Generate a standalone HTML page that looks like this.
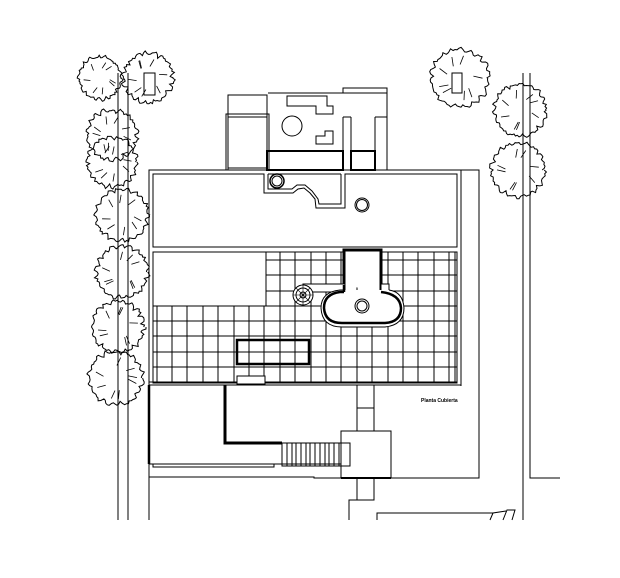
<!DOCTYPE html>
<html><head><meta charset="utf-8"><style>
html,body{margin:0;padding:0;background:#fff;}
svg{display:block;}
text{font-family:"Liberation Sans",sans-serif;}
</style></head><body>
<svg id="s" width="620" height="578" viewBox="0 0 620 578" xmlns="http://www.w3.org/2000/svg" fill="none" stroke="#000" stroke-width="1">
<g id="trees" stroke-width="1"></g>
<!-- tree trunk lines -->
<line x1="118" y1="73" x2="118" y2="520"/>
<line x1="128" y1="73" x2="128" y2="520"/>
<rect x="144" y="73" width="11" height="22"/>
<rect x="452" y="73" width="10" height="20"/>
<line x1="523" y1="73" x2="523" y2="520"/>
<polyline points="530,73 530,478 560,478"/>

<!-- top annex -->
<rect x="228" y="95" width="39" height="75"/>
<rect x="226" y="114" width="43" height="56"/>
<line x1="228" y1="117" x2="267" y2="117"/>
<line x1="228" y1="168" x2="267" y2="168"/>
<polyline points="268,93 387,93 387,170"/>
<rect x="343" y="88" width="44" height="5"/>
<line x1="343" y1="117" x2="343" y2="170"/>
<line x1="351" y1="117" x2="351" y2="170"/>
<line x1="343" y1="117" x2="351" y2="117"/>
<line x1="375" y1="117" x2="375" y2="170"/>
<line x1="375" y1="117" x2="387" y2="117"/>
<rect x="267" y="151" width="76" height="19" stroke-width="2"/>
<rect x="351" y="151" width="24" height="19" stroke-width="2"/>
<polygon points="287,96 327,96 327,106 333,106 333,114 316,114 316,106 287,106"/>
<circle cx="292" cy="126" r="10"/>
<polygon points="325,131 333,131 333,144 316,144 316,136 325,136"/>

<!-- main outer -->
<polyline points="149,520 149,170 479,170 479,478 391,478"/>
<polyline points="149,477 314,477 314,478 341,478"/>
<line x1="461" y1="170" x2="461" y2="386"/>
<!-- top roof -->
<polygon points="153,174 264,174 264,193 293,193 298,189 304,188 310,193 315,199 316,208 345,208 345,174 457,174 457,247 153,247"/>
<polyline points="268,174 268,189 292,189 297,185 305,185 312,191 318,199 319,204 341,204 341,174"/>
<line x1="268" y1="174" x2="341" y2="174"/>
<circle cx="277" cy="181" r="7" stroke-width="1.5"/>
<circle cx="277" cy="181" r="5"/>
<circle cx="362" cy="205" r="7"/>
<circle cx="362" cy="205" r="5.5"/>

<!-- grid area -->
<rect x="153" y="252" width="113" height="54"/>
<g id="grid" stroke-width="1"></g>
<rect x="153" y="252" width="304" height="131"/>
<line x1="157" y1="306" x2="157" y2="383"/>
<line x1="149" y1="385" x2="461" y2="385"/>
<line x1="149" y1="382" x2="153" y2="382"/>
<!-- tower -->
<polyline points="344,285 344,250 381,250 381,292" stroke-width="3" fill="#fff"/>
<rect x="303" y="284" width="42" height="8" fill="#fff"/>
<circle cx="303" cy="295" r="10" fill="#fff"/>
<circle cx="303" cy="295" r="7"/>
<circle cx="303" cy="295" r="3"/>
<path d="M303,285 L303,305 M293,295 L313,295 M296,288 L310,302 M310,288 L296,302" stroke-width="0.6"/>
<rect x="381" y="284" width="8" height="7" fill="#fff"/>
<path d="M344,290 L340,290 Q321,292 321,308 Q322,327 342,327 L385,327 Q404,325 404,308 Q403,292 389,290" fill="#fff"/>
<path d="M344,292 L340,292 Q324,294 324,308 Q325,323 342,323 L385,323 Q401,322 401,308 Q400,294 381,292 M344,285 L344,292" stroke-width="2.5"/>
<circle cx="362" cy="306" r="7"/>
<circle cx="362" cy="306" r="5"/>
<rect x="237" y="340" width="72" height="24" stroke-width="2.5" fill="none"/>
<rect x="237" y="376" width="28" height="8" fill="#fff"/>

<!-- lower -->
<polyline points="225,385 225,443 282,443" stroke-width="3"/>
<line x1="149" y1="385" x2="149" y2="464" stroke-width="2.5"/>
<line x1="149" y1="464" x2="345" y2="464"/>
<polyline points="153,464 153,467 274,467 274,464"/>
<rect x="282" y="443" width="60" height="23"/>
<rect x="342" y="443" width="8" height="23"/>
<g id="stairs" stroke-width="1"></g>
<rect x="341" y="431" width="50" height="47" fill="#fff"/>
<rect x="341" y="443" width="9" height="23"/>
<line x1="341" y1="478" x2="391" y2="478" stroke-width="2"/>
<rect x="357" y="385" width="17" height="23"/>
<rect x="357" y="408" width="17" height="23"/>
<rect x="357" y="478" width="17" height="22"/>
<polyline points="357,500 349,500 349,520"/>
<polyline points="377,520 377,513 493,513"/>
<path d="M490,520 L493,513 L506,511 M503,520 L507,510 L515,510 L512,520"/>
<text x="421" y="402" font-size="5" font-weight="bold" fill="#000" stroke="none">Planta Cubierta</text>
</svg>
<script>
(function(){
var NS="http://www.w3.org/2000/svg";
var g=document.getElementById('grid');
function L(p,x1,y1,x2,y2){var l=document.createElementNS(NS,'line');l.setAttribute('x1',x1);l.setAttribute('y1',y1);l.setAttribute('x2',x2);l.setAttribute('y2',y2);p.appendChild(l);}
var xs=[];for(var x=172;x<457;x+=15.4)xs.push(Math.round(x));
xs.forEach(function(x){L(g,x,(x>266?252:306),x,383);});
L(g,455,252,455,383);
for(var y=260;y<=383;y+=15.25){var yy=Math.round(y);L(g,yy<306?266:153,yy,457,yy);}
var st=document.getElementById('stairs');
for(var x=287;x<342;x+=4.7)L(st,Math.round(x),443,Math.round(x),466);
var t=document.getElementById('trees');
function tree(cx,cy,r,seed){var s=seed;function rnd(){s=(s*9301+49297)%233280;return s/233280;}
var d='';var n=90;for(var i=0;i<=n;i++){var a=i/n*Math.PI*2;var rr=r*(0.88+0.12*Math.abs(Math.sin(a*9+seed)))+ (rnd()-0.5)*3;var px=cx+rr*Math.cos(a),py=cy+rr*Math.sin(a);d+=(i?'L':'M')+px.toFixed(1)+','+py.toFixed(1);}
var p=document.createElementNS(NS,'path');p.setAttribute('d',d);t.appendChild(p);
for(var k=0;k<8;k++){var a=k/8*Math.PI*2+rnd();var r1=r*0.45,r2=r*0.75;var q=document.createElementNS(NS,'path');
q.setAttribute('d','M'+(cx+r1*Math.cos(a)).toFixed(1)+','+(cy+r1*Math.sin(a)).toFixed(1)+'L'+(cx+r2*Math.cos(a+0.15)).toFixed(1)+','+(cy+r2*Math.sin(a+0.15)).toFixed(1));q.setAttribute('stroke-width','0.8');t.appendChild(q);}}
tree(112,135,26,3);tree(112,162,26,7);tree(122,215,27,11);tree(122,272,27,13);tree(118,327,27,17);tree(116,378,28,19);
tree(100,78,22,23);tree(148,78,26,29);tree(460,78,30,31);
tree(520,110,27,37);tree(518,170,28,41);
})();
</script>
</body></html>
